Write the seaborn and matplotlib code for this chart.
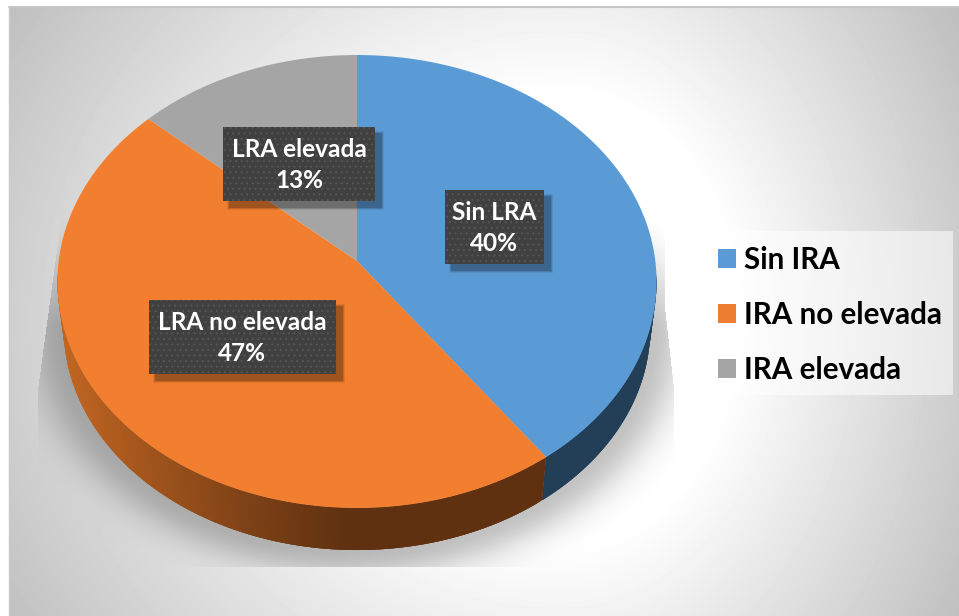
import numpy as np
import seaborn as sns
import matplotlib.pyplot as plt
from matplotlib.patches import Patch, Rectangle

categories = ["Sin IRA", "IRA no elevada", "IRA elevada"]
label_names = ["Sin LRA", "LRA no elevada", "LRA elevada"]
values = [40.0, 46.7, 13.3]
top_colors = ["#5B9BD5", "#F27F30", "#A5A5A5"]
legend_colors = ["#5B9BD5", "#ED7D31", "#A5A5A5"]

sns.set_theme(style="white", palette=legend_colors)
plt.rcParams["font.family"] = ["Lato", "DejaVu Sans"]
plt.rcParams["hatch.linewidth"] = 0.8

W, H = 959, 616
fig = plt.figure(figsize=(W / 100, H / 100), dpi=100)
ax = fig.add_axes([0, 0, 1, 1])
ax.set_xlim(0, W)
ax.set_ylim(H, 0)
ax.axis("off")

# pie geometry, tilted disc seen in perspective
cx, cy = 357.0, 261.0
rx = 298.3
k = 0.0905
a = -201.0
ell_cy = 281.5
side_scale = 0.979
side_cy = 328.3


def project(theta):
    # theta in radians, clockwise from the top
    u = np.sin(theta)
    v = np.cos(theta)
    x = cx + rx * u / (1 + k * v)
    y = (a * v + cy) / (1 + k * v)
    return x, y


def lower(x, y):
    return cx + (x - cx) * side_scale, side_cy + (y - ell_cy) * side_scale


# background gradient and shadow
xx, yy = np.meshgrid(np.arange(W) + 0.5, np.arange(H) + 0.5)
dx = np.where(xx < 560, (xx - 560) / 550, (xx - 560) / 390)
rho = np.sqrt(dx ** 2 + ((yy - 320) / 500) ** 2)
shade = 1 - 0.25 * np.clip((rho - 0.45) / 0.73, 0, 1.1)
r = np.sqrt(((xx - cx) / (rx * side_scale + 1.0)) ** 2 + ((yy - side_cy) / (226.5 * side_scale)) ** 2)
d = np.clip((r - 1) * 240, 0, None)
left_edge = np.interp(yy, [213, 390], [62, 38])
right_edge = np.interp(yy, [308, 388], [665, 674])
inside = (xx > left_edge) & (xx < right_edge) & (yy < 567)
fade = np.clip((yy - 215) / 110, 0, 1)
shadow = np.where(inside, 0.24 * fade * np.exp(-(d / 30) ** 2), 0)
gray = shade * (1 - shadow)
ax.imshow(gray, cmap="gray", vmin=0, vmax=1, extent=(0, W, H, 0), aspect="auto", zorder=0)
ax.set_xlim(0, W)
ax.set_ylim(H, 0)
ax.add_patch(Rectangle((0, 0), 8.5, H, fc="white", ec="none", zorder=1))
ax.add_patch(Rectangle((0, 0), W, 6, fc="white", ec="none", zorder=1))
ax.plot([8.5, W], [6.5, 6.5], color="#c6c6c6", lw=1.5, zorder=1)
ax.plot([8.5, 8.5], [6.5, H], color="#c9c9c9", lw=1, zorder=1)

# slice boundaries
fractions = np.array(values) / sum(values)
edges = np.concatenate([[0], np.cumsum(fractions)]) * 2 * np.pi

# side wall, drawn as overlapping strips so it can carry the shading
dark_orange = np.array([0x5F, 0x31, 0x11]) / 255
light_orange = np.array([0xC2, 0x66, 0x22]) / 255
for i in range(len(values)):
    steps = np.linspace(edges[i], edges[i + 1], int(values[i] * 6))
    step = steps[1] - steps[0]
    for t0 in steps[:-1]:
        t1 = min(t0 + 3 * step, edges[i + 1])
        if np.cos(t0) > -0.05 or np.cos(t1) > -0.05:
            continue  # back half is hidden behind the top
        seg = np.linspace(t0, t1, 6)
        x_top, y_top = project(seg)
        x_low, y_low = lower(x_top, y_top)
        if i == 1:
            m = np.clip((350 - x_top[0]) / 290, 0, 1) ** 1.1
            c = dark_orange + (light_orange - dark_orange) * m
        else:
            c = "#223F57"
        ax.fill(np.r_[x_top, x_low[::-1]], np.r_[y_top, y_low[::-1]], color=c, lw=0, zorder=2)

# top of the pie
for i in range(len(values)):
    t = np.linspace(edges[i], edges[i + 1], 300)
    x, y = project(t)
    ax.fill(np.r_[cx, x], np.r_[cy, y], color=top_colors[i], lw=0, zorder=3)

# data labels
boxes = [(445, 190, 99, 74), (149, 300, 187, 74), (223, 127, 152, 74)]
for name, val, (bx, by, bw, bh) in zip(label_names, values, boxes):
    for grow, alpha in [(5, 0.08), (3, 0.12), (1, 0.18)]:
        ax.add_patch(Rectangle((bx + 6 - grow / 2, by + 6 - grow / 2), bw + grow, bh + grow,
                               fc="black", ec="none", alpha=alpha, zorder=4))
    ax.add_patch(Rectangle((bx, by), bw, bh, fc="#404040", ec="none", zorder=5))
    ax.add_patch(Rectangle((bx, by), bw, bh, fc="none", ec="#555555", lw=0, hatch="...", zorder=5))
    ax.text(bx + bw / 2, by + bh / 2 + 1, f"{name}\n{val:.0f}%", color="white", fontsize=17.6, fontweight="bold",
            ha="center", va="center", linespacing=1.42, zorder=6)

# legend
ax.add_patch(Rectangle((703, 231), 250, 164, fc="white", ec="none", alpha=0.55, zorder=4))
handles = [Patch(facecolor=c, edgecolor="none") for c in legend_colors]
ax.legend(handles, categories, loc="upper left", bbox_to_anchor=(703, 231), bbox_transform=ax.transData,
          frameon=False, prop={"size": 21.3, "weight": "bold"}, labelcolor="black",
          handlelength=0.61, handleheight=0.61, handletextpad=0.27, labelspacing=0.91,
          borderaxespad=0, borderpad=0.5)

fig.savefig("out.png", dpi=100)
